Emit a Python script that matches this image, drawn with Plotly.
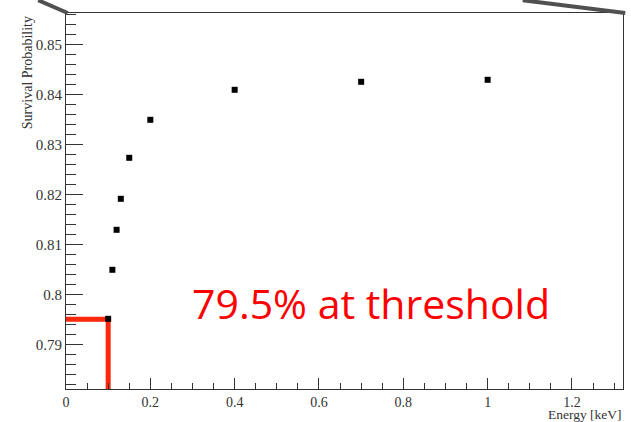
import plotly.graph_objects as go

# Data
energy_kev = [0.10, 0.11, 0.12, 0.13, 0.15, 0.20, 0.40, 0.70, 1.00]
survival = [0.7951, 0.8049, 0.8129, 0.8191, 0.8273, 0.8349, 0.8409, 0.8425, 0.8429]

threshold_kev = 0.10
threshold_survival = 0.795
annotation_text = "79.5% at threshold"

x_range = [0.0, 1.321]
y_range = [0.78106, 0.85626]

fig = go.Figure()

# Red threshold marker line
fig.add_trace(go.Scatter(
    x=[x_range[0], threshold_kev, threshold_kev],
    y=[threshold_survival, threshold_survival, y_range[0]],
    mode="lines",
    line=dict(color="rgb(255,40,10)", width=5),
    hoverinfo="skip",
    showlegend=False,
))

fig.add_trace(go.Scatter(
    x=energy_kev, y=survival,
    mode="markers",
    marker=dict(symbol="square", size=6, color="black", line=dict(width=0)),
    showlegend=False,
))

x_tick_font = dict(family="Liberation Serif", size=14, color="#333333")
y_tick_font = dict(family="Liberation Serif", size=15, color="#333333")

fig.update_xaxes(
    range=x_range, showgrid=False, zeroline=False,
    showline=True, linecolor="#333333", linewidth=1, mirror=True,
    ticks="inside", ticklen=11, tickwidth=1, tickcolor="#333333",
    tick0=0, dtick=0.2, tickfont=x_tick_font,
    minor=dict(ticks="inside", ticklen=6, dtick=0.05, tickcolor="#333333", tickwidth=1, showgrid=False),
)
fig.update_yaxes(
    range=y_range, showgrid=False, zeroline=False,
    showline=True, linecolor="#333333", linewidth=1, mirror=True,
    ticks="inside", ticklen=17, tickwidth=1, tickcolor="#333333",
    tickfont=y_tick_font,
    tickvals=[0.79, 0.80, 0.81, 0.82, 0.83, 0.84, 0.85],
    ticktext=["0.79", "0.8", "0.81", "0.82", "0.83", "0.84", "0.85"],
    minor=dict(ticks="inside", ticklen=10, dtick=0.002, tickcolor="#333333", tickwidth=1, showgrid=False),
)

fig.add_annotation(
    text="Survival Probability", textangle=-90,
    xref="paper", yref="paper", x=-0.07, y=0.84,
    xanchor="center", yanchor="middle", showarrow=False,
    font=dict(family="Liberation Serif", size=14, color="#333333"),
)
fig.add_annotation(
    text="Energy [keV]",
    xref="paper", yref="paper", x=1.0, y=-0.044,
    xanchor="right", yanchor="top", showarrow=False, borderpad=0,
    font=dict(family="Liberation Serif", size=13.5, color="#333333"),
)
fig.add_annotation(
    text=annotation_text,
    xref="x", yref="y", x=0.7245, y=0.7983,
    xanchor="center", yanchor="middle", showarrow=False,
    font=dict(family="Open Sans", size=41, color="rgb(255,0,0)"),
)

# Gray slide lines at the top
fig.add_shape(type="line", xref="paper", yref="paper",
              x0=-0.05, y0=1.034, x1=0.003, y1=1.0,
              line=dict(color="#505050", width=4))
fig.add_shape(type="line", xref="paper", yref="paper",
              x0=0.82, y0=1.034, x1=1.004, y1=1.0,
              line=dict(color="#505050", width=4))

fig.update_layout(
    width=631, height=422,
    margin=dict(l=66, r=8, t=13, b=33),
    paper_bgcolor="white", plot_bgcolor="white",
    showlegend=False,
)

fig.write_html("out.html")
